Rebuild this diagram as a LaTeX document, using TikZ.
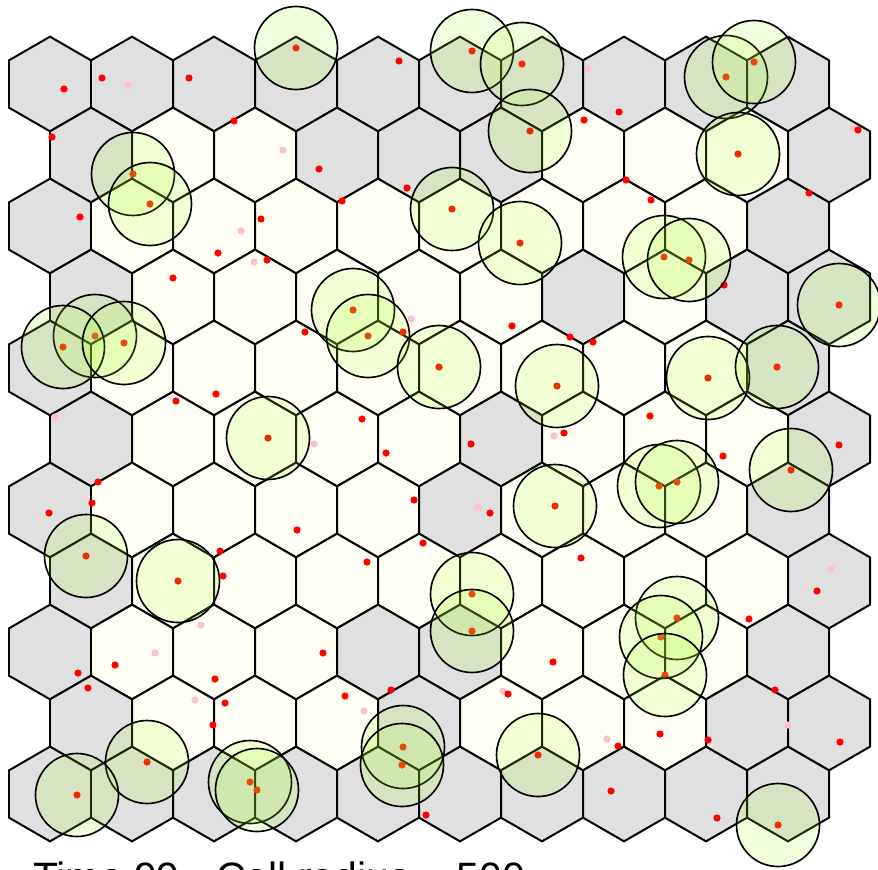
\documentclass[tikz,border=0pt]{standalone}
\usepackage{fontspec}
\setmainfont{Liberation Sans}
\usepackage{xcolor}
\usepackage{tikz}
\definecolor{hxgray}{RGB}{224,224,224}
\definecolor{hxivory}{RGB}{255,255,243}
\definecolor{hxgreen}{RGB}{173,255,47}
\definecolor{hxpink}{RGB}{255,192,203}
\tikzset{
  hxcell/.style={draw=black, line width=1.7pt},
  hxdot/.style={fill=red},
  hxpale/.style={fill=hxpink},
  hxzone/.style={draw=black, line width=1.4pt, fill=hxgreen, fill opacity=0.16},
  hxtitle/.style={anchor=base west, inner sep=0pt, font=\fontsize{35pt}{40pt}\selectfont}
}

\begin{document}
\begin{tikzpicture}[x=0.03cm, y=-0.03cm]
  \useasboundingbox (0,0) rectangle (878,869);
  \foreach \r/\row in {0/{1,1,1,1,1,1,1,1,1,1}, 1/{1,0,0,1,1,1,0,0,0,1},
      2/{1,0,0,0,0,0,0,0,0,1}, 3/{1,0,0,0,0,0,1,0,1,1}, 4/{1,0,0,0,0,0,0,0,0,1},
      5/{1,0,0,0,0,1,0,0,0,1}, 6/{1,0,0,0,0,1,0,0,0,1}, 7/{1,0,0,0,0,0,0,0,0,1},
      8/{1,0,0,0,1,1,0,0,0,1}, 9/{1,0,0,0,1,0,0,0,1,1}, 10/{1,1,1,1,1,1,1,1,1,1}}{
    \foreach \k [count=\c from 0] in \row {
      \pgfmathsetmacro{\cx}{50+82*\c+41*mod(\r,2)}
      \pgfmathsetmacro{\cy}{84+71*\r}
      \ifnum\k=1 \def\hxfill{hxgray}\else\def\hxfill{hxivory}\fi
      \filldraw[hxcell, fill=\hxfill] (\cx,\cy) +(90:47.34) -- +(30:47.34) -- +(-30:47.34)
        -- +(-90:47.34) -- +(-150:47.34) -- +(150:47.34) -- cycle;
    }
  }
  \foreach \x/\y in {128/85, 283/150, 241/231, 254/262, 588/69, 853/128, 411/319,
      314/444, 554/436, 478/507, 55/417, 831/569, 201/625, 155/653, 195/700,
      364/711, 503/691, 788/725, 607/739}
    \fill[hxpale] (\x,\y) circle (3.6);
  \foreach \x/\y in {64/89, 102/78, 189/78, 52/137, 234/121, 80/217, 261/219, 218/253,
      267/260, 173/278, 399/61, 584/120, 319/169, 407/188, 342/201, 619/112, 858/130,
      626/180, 651/200, 809/193, 724/285, 305/332, 403/332, 512/326, 570/337, 362/419,
      386/453, 471/444, 564/433, 414/500, 490/513, 297/530, 423/543, 367/562, 581/558,
      176/401, 216/394, 98/482, 92/503, 49/513, 220/551, 223/576, 593/342, 650/416,
      723/456, 839/445, 817/591, 115/665, 78/673, 88/688, 215/679, 225/703, 213/725,
      323/653, 553/662, 345/696, 391/690, 508/694, 426/815, 749/619, 775/690, 840/742,
      618/746, 660/734, 708/740, 611/791, 717/818}
    \fill[hxdot] (\x,\y) circle (3.6);
  \def\hxzonelist{296/48, 472/51, 522/64, 530/131, 726/77, 754/62, 738/154, 133/174,
      150/204, 452/209, 520/243, 664/257, 689/260, 839/305, 353/310, 368/336, 95/336,
      63/347, 124/343, 439/367, 557/386, 708/378, 777/367, 268/438, 659/486, 677/482,
      791/470, 555/506, 86/556, 178/581, 472/594, 472/631, 677/618, 661/637, 665/675,
      147/762, 77/795, 250/782, 257/790, 403/747, 402/765, 538/755, 778/825}
  \foreach \x/\y in \hxzonelist
    \fill[hxdot] (\x,\y) circle (3.6);
  \foreach \x/\y in \hxzonelist
    \filldraw[hxzone] (\x,\y) circle (41.5);
  \node[hxtitle] (mTitle) at (33,891) {Time 99 - Cell radius = 500};
\end{tikzpicture}
\end{document}
